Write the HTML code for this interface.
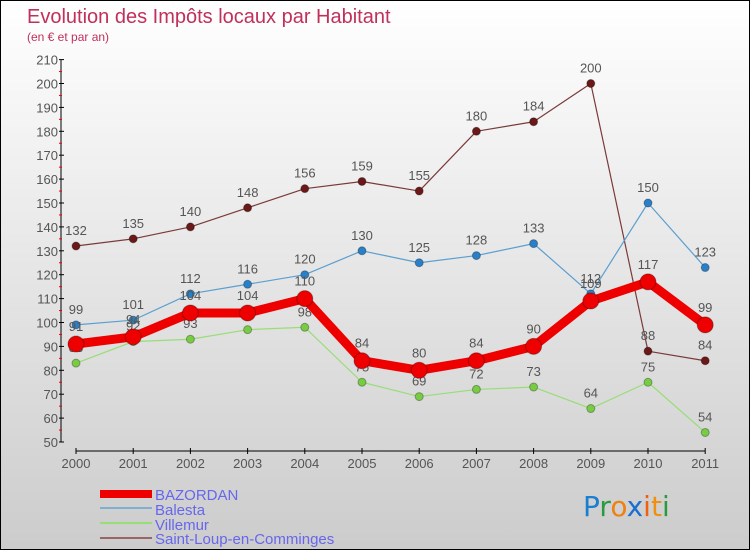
<!DOCTYPE html>
<html><head><meta charset="utf-8"><style>
body{margin:0}
#c{width:748px;height:548px;border:1px solid #000;background:linear-gradient(#fff,#ccc);position:relative;font-family:"Liberation Sans",sans-serif}
</style></head><body>
<div id="c">
<svg width="748" height="548" id="s">
<text x="26" y="22" font-size="20" fill="#c0305a">Evolution des Impôts locaux par Habitant</text>
<text x="26" y="40" font-size="12" fill="#c0305a">(en € et par an)</text>
<g id="ax"></g><g id="pl"></g>
<g>
<rect x="99" y="489" width="52" height="8" fill="#e00"/>
<text x="154" y="499" font-size="15" fill="#6666ee">BAZORDAN</text>
<line x1="99" y1="507" x2="151" y2="507" stroke="#7fb0d0" stroke-width="2"/>
<text x="154" y="514" font-size="15" fill="#6666ee">Balesta</text>
<line x1="99" y1="522" x2="151" y2="522" stroke="#99dd77" stroke-width="2"/>
<text x="154" y="529" font-size="15" fill="#6666ee">Villemur</text>
<line x1="99" y1="537" x2="151" y2="537" stroke="#996666" stroke-width="2"/>
<text x="154" y="543" font-size="15" fill="#6666ee">Saint-Loup-en-Comminges</text>
</g>
<g font-size="28" font-family="DejaVu Sans,sans-serif">
<text x="582" y="515"><tspan fill="#1a7fd0">P</tspan><tspan fill="#2a9a40">r</tspan><tspan fill="#f08010">o</tspan><tspan fill="#1a6fd0">x</tspan><tspan fill="#f06010">i</tspan><tspan fill="#f09010">t</tspan><tspan fill="#2a9a40">i</tspan></text>
</g>
</svg></div>
<script>
const years=["2000","2001","2002","2003","2004","2005","2006","2007","2008","2009","2010","2011"];
const yTicks=[50,60,70,80,90,100,110,120,130,140,150,160,170,180,190,200,210];
const bazordan=[91,94,104,104,110,84,80,84,90,109,117,99];
const balesta=[99,101,112,116,120,130,125,128,133,112,150,123];
const villemur=[83,92,93,97,98,75,69,72,73,64,75,54];
const saintLoup=[132,135,140,148,156,159,155,180,184,200,88,84];
const NS="http://www.w3.org/2000/svg";
const X=i=>75+i*57.2, Y=v=>441-(v-50)*2.39;
function mk(p,t,a){const e=document.createElementNS(NS,t);for(const k in a)e.setAttribute(k,a[k]);p.appendChild(e);return e;}
const ax=document.getElementById('ax'),pl=document.getElementById('pl');
let e=mk(ax,'line',{x1:60,y1:Y(210),x2:60,y2:Y(50),stroke:'#000'});


e=mk(ax,'line',{x1:75,y1:450,x2:X(11),y2:450,stroke:'#000'});


yTicks.forEach((v,i)=>{
 mk(ax,'line',{x1:58,y1:Y(v),x2:63,y2:Y(v),stroke:'#000'});
 if(i<yTicks.length-1)mk(ax,'line',{x1:58,y1:Y(v+5),x2:61,y2:Y(v+5),stroke:'#e00'});
 const t=mk(ax,'text',{x:57,y:Y(v)+5,'font-size':13,fill:'#555','text-anchor':'end'});t.textContent=v;
 
 
});
years.forEach((y,i)=>{
 mk(ax,'line',{x1:X(i),y1:447,x2:X(i),y2:453,stroke:'#000'});
 const t=mk(ax,'text',{x:X(i),y:467,'font-size':13,fill:'#555','text-anchor':'middle'});t.textContent=y;
 
 
});
function series(d,col,dot,w,r,name){
 const g=mk(pl,'g',{});
 
 
 mk(g,'polyline',{points:d.map((v,i)=>X(i)+','+Y(v)).join(' '),fill:'none',stroke:col,'stroke-width':w,'stroke-linejoin':'round'});
 d.forEach((v,i)=>{
  const c=mk(g,'circle',{cx:X(i),cy:Y(v),r:r,fill:dot,stroke:'rgba(0,0,0,0.3)'});
  
  
  const t=mk(g,'text',{x:X(i),y:Y(v)-9-r/2,'font-size':13,fill:'#555','text-anchor':'middle'});t.textContent=v;
  
  
 });
}
series(saintLoup,'#7a3a3a','#6a1818',1.2,4,'saint-loup');
series(balesta,'#5a9fd0','#2a80c8',1.2,4,'balesta');
series(villemur,'#99dd77','#77cc44',1.2,4,'villemur');
series(bazordan,'#ee0000','#ee0000',9,8,'bazordan');
</script>
</body></html>
